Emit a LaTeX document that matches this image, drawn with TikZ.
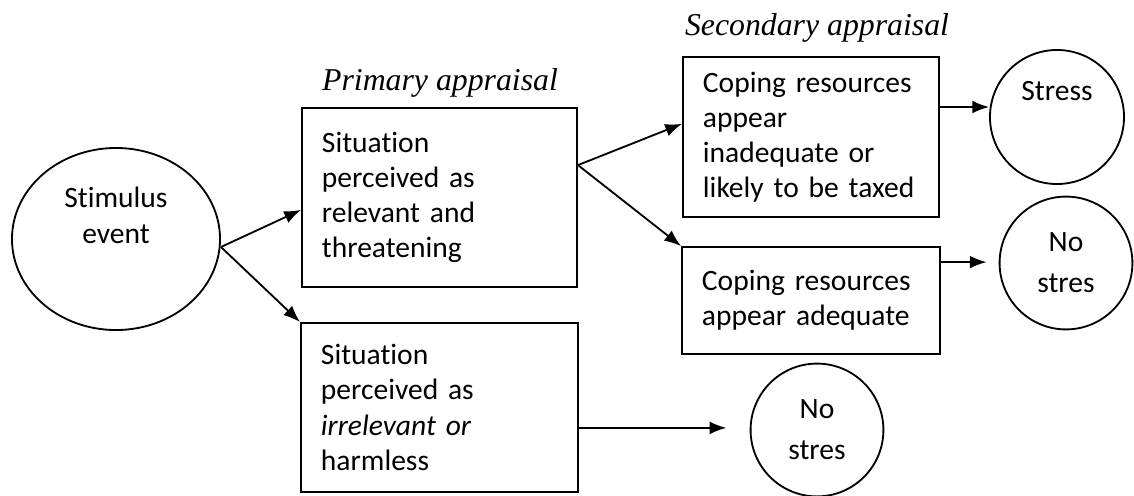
\documentclass[tikz,border=0pt]{standalone}
\usepackage{fontspec}
\setmainfont{Carlito}[Ligatures=NoCommon]
\newfontfamily\headfont{Liberation Serif}
\usetikzlibrary{shapes.geometric,arrows.meta}

\begin{document}
\begin{tikzpicture}[x=0.025cm, y=-0.025cm,
  box/.style = {rectangle, draw, line width=1.3pt, align=left, inner xsep=0.5cm,
                font=\fontsize{21}{25}\selectfont},
  endcirc/.style = {circle, draw, line width=1.3pt, align=center, minimum size=3.32cm,
                inner sep=0pt, font=\fontsize{21}{29}\selectfont},
  head/.style = {font=\headfont\itshape\fontsize{22.6}{26}\selectfont},
  arr/.style = {line width=1.3pt, -{Latex[length=0.42cm,width=0.32cm]}}]

\useasboundingbox (0,0) rectangle (1134,495);

\node[ellipse, draw, line width=1.3pt, align=center, minimum width=5.2cm, minimum height=4.55cm,
      font=\fontsize{21}{26}\selectfont] (stim) at (116,239) {Stimulus\\event\\ \strut};

\node[box, text width=5.875cm, minimum height=4.475cm] (prim) at (439.5,197.5)
  {Situation\\perceived as\\relevant and\\threatening};
\node[box, text width=5.925cm, minimum height=4.225cm] (low) at (439.5,407.5)
  {Situation\\perceived as\\\textit{irrelevant or}\\harmless};

\node[box, text width=5.4cm, minimum height=4cm] (sec1) at (811,137)
  {Coping resources\\appear\\inadequate or\\likely to be taxed};
\node[box, text width=5.45cm, minimum height=2.675cm] (sec2) at (811,300.5)
  {Coping resources\\appear adequate};

\node[endcirc, minimum size=3.35cm] (stress) at (1057,117) {Stress\\ \strut};
\node[endcirc] (nostres1) at (1066,263) {No\\stres};
\node[endcirc] (nostres2) at (817,430) {No\\stres};

\node[head] (primlabel) at (440,83) {Primary appraisal};
\node[head] (seclabel) at (817,28) {Secondary appraisal};

\coordinate (s1) at ([yshift=-0.2cm]stim.east);
\coordinate (s2) at ([yshift=0.81cm]prim.east);

\draw[arr] (s1) -- ([yshift=-0.31cm]prim.west);
\draw[arr] (s1) -- (low.north west);
\draw[arr] (s2) -- ([yshift=0.33cm]sec1.west);
\draw[arr] (s2) -- (sec2.north west);

\draw[arr] ([yshift=0.75cm]sec1.east) -- ([yshift=0.75cm]sec1.east -| stress.west);
\draw[arr, shorten >=0.3cm] ([yshift=0.96cm]sec2.east) -- ([yshift=0.96cm]sec2.east -| nostres1.west);
\draw[arr, shorten >=0.58cm] ([yshift=-0.51cm]low.east) -- ([yshift=-0.51cm]low.east -| nostres2.west);

\end{tikzpicture}
\end{document}
